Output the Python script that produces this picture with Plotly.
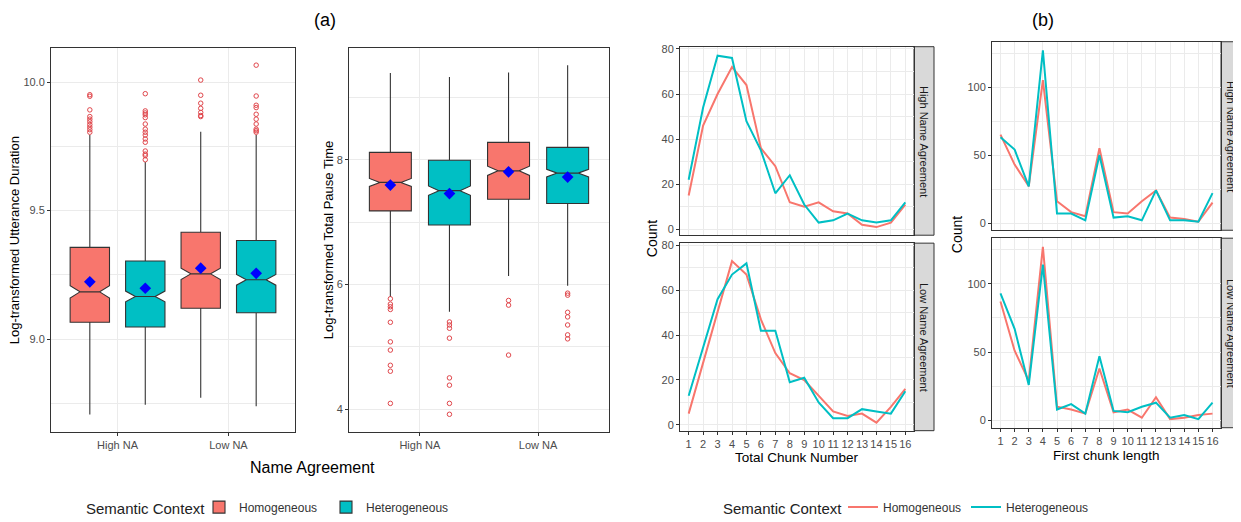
import plotly.graph_objects as go

# The page body adds an 8px offset; size the figure so it fills the 1241x522 window exactly.
W, H = 1241, 522
OFF = 8
WF, HF = W - OFF, H - OFF
FONT = "Liberation Sans, Arial, sans-serif"
RED = "#F8766D"
TEAL = "#00BFC4"
GRID = "#EBEBEB"
DARK = "#333333"
TICKC = "#4D4D4D"
OUTC = "#E0474C"

# ---------------- data: panel (a) ----------------
groups = ["Homogeneous", "Heterogeneous"]
na_labels = ["High NA", "Low NA"]

# Log-transformed Utterance Duration
ud_homog_q1 = [9.066, 9.120]
ud_homog_med = [9.184, 9.254]
ud_homog_q3 = [9.357, 9.416]
ud_homog_lo = [8.707, 8.772]
ud_homog_hi = [9.794, 9.807]
ud_homog_mean = [9.223, 9.276]
ud_homog_notch = [0.024, 0.022]
ud_heter_q1 = [9.047, 9.103]
ud_heter_med = [9.166, 9.231]
ud_heter_q3 = [9.304, 9.384]
ud_heter_lo = [8.745, 8.739]
ud_heter_hi = [9.689, 9.794]
ud_heter_mean = [9.198, 9.256]
ud_heter_notch = [0.021, 0.021]
ud_out_homog_high = [9.951, 9.945, 9.892, 9.866, 9.856, 9.846, 9.835, 9.825, 9.815, 9.805]
ud_out_homog_low = [10.008, 9.949, 9.918, 9.898, 9.882, 9.870, 9.866]
ud_out_heter_high = [9.955, 9.888, 9.880, 9.873, 9.862, 9.837, 9.817, 9.805, 9.794,
                     9.779, 9.766, 9.732, 9.720, 9.714, 9.698]
ud_out_heter_low = [10.066, 9.946, 9.910, 9.901, 9.875, 9.856, 9.837, 9.817, 9.811, 9.805]

# Log-transformed Total Pause Time
tp_homog_q1 = [7.182, 7.368]
tp_homog_med = [7.639, 7.824]
tp_homog_q3 = [8.121, 8.281]
tp_homog_lo = [5.80, 6.138]
tp_homog_hi = [9.394, 9.400]
tp_homog_mean = [7.596, 7.809]
tp_homog_notch = [0.064, 0.074]
tp_heter_q1 = [6.955, 7.300]
tp_heter_med = [7.507, 7.788]
tp_heter_q3 = [7.994, 8.201]
tp_heter_lo = [5.565, 5.979]
tp_heter_hi = [9.331, 9.517]
tp_heter_mean = [7.459, 7.724]
tp_heter_notch = [0.074, 0.061]
tp_out_homog_high = [5.772, 5.686, 5.644, 5.601, 5.395, 5.081, 4.949, 4.705, 4.610, 4.094]
tp_out_homog_low = [5.745, 5.670, 4.869]
tp_out_heter_high = [5.400, 5.352, 5.299, 5.140, 4.503, 4.386, 4.094, 3.919]
tp_out_heter_low = [5.862, 5.830, 5.555, 5.481, 5.352, 5.193, 5.129]

# ---------------- data: panel (b) ----------------
chunk_x = list(range(1, 17))
tcn_high_homog = [15, 46, 60, 72, 64, 36, 28, 12, 10, 12, 8, 7, 2, 1, 3, 11]
tcn_high_heter = [22, 54, 77, 76, 48, 35, 16, 24, 11, 3, 4, 7, 4, 3, 4, 12]
tcn_low_homog = [5, 28, 50, 73, 67, 47, 32, 23, 20, 13, 6, 4, 5, 1, 8, 16]
tcn_low_heter = [13, 35, 56, 67, 72, 42, 42, 19, 21, 10, 3, 3, 7, 6, 5, 15]

fcl_high_homog = [65, 43, 27, 105, 16, 8, 5, 55, 8, 7, 16, 24, 4, 3, 1, 15]
fcl_high_heter = [63, 54, 27, 127, 7, 7, 2, 50, 4, 5, 2, 24, 2, 2, 1, 22]
fcl_low_homog = [87, 51, 29, 127, 10, 8, 5, 38, 6, 8, 2, 17, 1, 2, 4, 5]
fcl_low_heter = [93, 67, 26, 114, 8, 12, 5, 47, 7, 6, 10, 13, 2, 4, 1, 13]

cat_pos = [1, 2]
dodge = 0.25

fig = go.Figure()


def add_boxes(xa, ya, stats, outs, show):
    for gi, (g, col, st, oh) in enumerate(zip(groups, [RED, TEAL], stats, outs)):
        off = -dodge if gi == 0 else dodge
        xs = [c + off for c in cat_pos]
        q1, med, q3, lo, hi, mean, notch = st
        fig.add_trace(go.Box(
            x=xs, q1=q1, median=med, q3=q3, lowerfence=lo, upperfence=hi,
            notchspan=notch, notched=True, notchwidth=0.25, width=0.355,
            whiskerwidth=0, fillcolor=col, line=dict(color=DARK, width=1.1),
            boxpoints=False, name=g, legendgroup=g, showlegend=show,
            legend="legend", xaxis=xa, yaxis=ya, hoverinfo="skip"))
        ox, oy = [], []
        for c, vals in zip(xs, oh):
            ox += [c] * len(vals)
            oy += vals
        fig.add_trace(go.Scatter(
            x=ox, y=oy, mode="markers", showlegend=False, xaxis=xa, yaxis=ya,
            marker=dict(symbol="circle-open", size=4.5, color=OUTC, line=dict(width=1, color=OUTC))))
        fig.add_trace(go.Scatter(
            x=xs, y=mean, mode="markers", showlegend=False, xaxis=xa, yaxis=ya,
            marker=dict(symbol="diamond", size=9, color="#0000FF", line=dict(width=0))))


add_boxes("x", "y",
          [(ud_homog_q1, ud_homog_med, ud_homog_q3, ud_homog_lo, ud_homog_hi, ud_homog_mean, ud_homog_notch),
           (ud_heter_q1, ud_heter_med, ud_heter_q3, ud_heter_lo, ud_heter_hi, ud_heter_mean, ud_heter_notch)],
          [[ud_out_homog_high, ud_out_homog_low], [ud_out_heter_high, ud_out_heter_low]], True)
add_boxes("x2", "y2",
          [(tp_homog_q1, tp_homog_med, tp_homog_q3, tp_homog_lo, tp_homog_hi, tp_homog_mean, tp_homog_notch),
           (tp_heter_q1, tp_heter_med, tp_heter_q3, tp_heter_lo, tp_heter_hi, tp_heter_mean, tp_heter_notch)],
          [[tp_out_homog_high, tp_out_homog_low], [tp_out_heter_high, tp_out_heter_low]], False)


def add_lines(xa, ya, homog, heter, show):
    for g, col, vals in [("Homogeneous", RED, homog), ("Heterogeneous", TEAL, heter)]:
        fig.add_trace(go.Scatter(
            x=chunk_x, y=vals, mode="lines", line=dict(color=col, width=2),
            name=g, showlegend=show, legend="legend2", legendgroup="b" + g,
            xaxis=xa, yaxis=ya))


add_lines("x3", "y3", tcn_high_homog, tcn_high_heter, True)
add_lines("x4", "y4", tcn_low_homog, tcn_low_heter, False)
add_lines("x5", "y5", fcl_high_homog, fcl_high_heter, False)
add_lines("x6", "y6", fcl_low_homog, fcl_low_heter, False)


def px(x):
    return (x - OFF) / WF


def py(y):
    return 1 - (y - OFF) / HF


def xd(a, b):
    return [px(a), min(1.0, px(b))]


def yd(top, bottom):
    return [py(bottom), py(top)]


def base_axis(**kw):
    d = dict(showline=True, mirror=True, linecolor=DARK, linewidth=1,
             showgrid=True, gridcolor=GRID, gridwidth=1, zeroline=False,
             ticks="outside", ticklen=3, tickcolor=DARK, tickwidth=1,
             automargin=False, tickangle=0,
             tickfont=dict(family=FONT, size=11, color=TICKC))
    d.update(kw)
    return d


box_x = dict(range=[0.4, 2.6], tickmode="array", tickvals=cat_pos, ticktext=na_labels)

layout_axes = dict(
    xaxis=base_axis(domain=xd(51, 295), anchor="y", **box_x),
    yaxis=base_axis(domain=yd(48, 435), anchor="x", range=[8.64, 10.134],
                    tickmode="linear", tick0=9, dtick=0.5, tickformat=".1f",
                    minor=dict(tickmode="linear", tick0=8.75, dtick=0.5, showgrid=True,
                               gridcolor=GRID, gridwidth=0.6, ticks="")),
    xaxis2=base_axis(domain=xd(349, 609), anchor="y2", **box_x),
    yaxis2=base_axis(domain=yd(48, 435), anchor="x2", range=[3.64, 9.8],
                     tickmode="linear", tick0=4, dtick=2,
                     minor=dict(tickmode="linear", tick0=5, dtick=2, showgrid=True,
                                gridcolor=GRID, gridwidth=0.6, ticks="")),
)

chunk_xaxis = dict(range=[0.4, 16.6], tickmode="linear", tick0=1, dtick=1)
for i, (xdom, ydom, yr, dt, mt, bottom) in enumerate([
        (xd(680, 914), yd(47, 237), [-2.6, 81.0], 20, 10, False),
        (xd(680, 914), yd(245, 434), [-2.6, 81.0], 20, 10, True),
        (xd(992, 1221), yd(42, 232), [-5.3, 133.3], 50, 25, False),
        (xd(992, 1221), yd(240, 431), [-5.3, 133.3], 50, 25, True)], start=3):
    xa = base_axis(domain=xdom, anchor="y%d" % i, **chunk_xaxis)
    if not bottom:
        xa.update(showticklabels=False, ticks="")
    layout_axes["xaxis%d" % i] = xa
    layout_axes["yaxis%d" % i] = base_axis(
        domain=ydom, anchor="x%d" % i, range=yr, tickmode="linear", tick0=0, dtick=dt,
        minor=dict(tickmode="linear", tick0=mt, dtick=2 * mt, showgrid=True,
                   gridcolor=GRID, gridwidth=0.6, ticks=""))

shapes = []
annotations = []
# facet strips
for (x0, x1), (top, bot), label in [
        ((914, 934), (47, 237), "High Name Agreement"),
        ((914, 934), (245, 434), "Low Name Agreement"),
        ((1221, 1241), (42, 232), "High Name Agreement"),
        ((1221, 1241), (240, 431), "Low Name Agreement")]:
    shapes.append(dict(type="rect", xref="paper", yref="paper",
                       x0=px(x0), x1=px(x1), y0=py(bot), y1=py(top),
                       fillcolor="#D9D9D9", line=dict(color=DARK, width=1), layer="below"))
    annotations.append(dict(xref="paper", yref="paper", x=px((x0 + x1) / 2),
                            y=py((top + bot) / 2), text=label, textangle=90,
                            xanchor="center", yanchor="middle",
                            showarrow=False, font=dict(family=FONT, size=11, color="#1A1A1A")))


def txt(x, y, s, size, angle=0, color="black", anchor="center"):
    annotations.append(dict(xref="paper", yref="paper", x=px(x), y=py(y), text=s,
                            textangle=angle, showarrow=False, xanchor=anchor, yanchor="middle",
                            font=dict(family=FONT, size=size, color=color)))


txt(325, 20, "(a)", 18)
txt(1043, 20, "(b)", 18)
txt(14, 242, "Log-transformed Utterance Duration", 13, -90)
txt(328, 242, "Log-transformed Total Pause Time", 13, -90)
txt(312, 471, "Name Agreement", 16)
txt(652, 241, "Count", 14, -90)
txt(957, 237, "Count", 14, -90)
txt(797, 461, "Total Chunk Number", 13.5)
txt(1106, 459, "First chunk length", 13.5)
# legend titles
txt(84, 512, "Semantic Context", 15, color="#222222", anchor="left")
txt(721, 512, "Semantic Context", 15, color="#222222", anchor="left")

fig.update_layout(
    width=WF, height=HF, margin=dict(l=0, r=0, t=0, b=0),
    paper_bgcolor="white", plot_bgcolor="white",
    font=dict(family=FONT),
    shapes=shapes, annotations=annotations,
    legend=dict(orientation="h", x=px(199), xanchor="left", y=py(511), yanchor="middle",
                font=dict(size=12, color="#333333"), bgcolor="rgba(0,0,0,0)",
                entrywidth=82, entrywidthmode="pixels"),
    legend2=dict(orientation="h", x=px(843), xanchor="left", y=py(511), yanchor="middle",
                 font=dict(size=12, color="#333333"), bgcolor="rgba(0,0,0,0)",
                 entrywidth=78, entrywidthmode="pixels"),
    **layout_axes)

fig.write_html("out.html")
